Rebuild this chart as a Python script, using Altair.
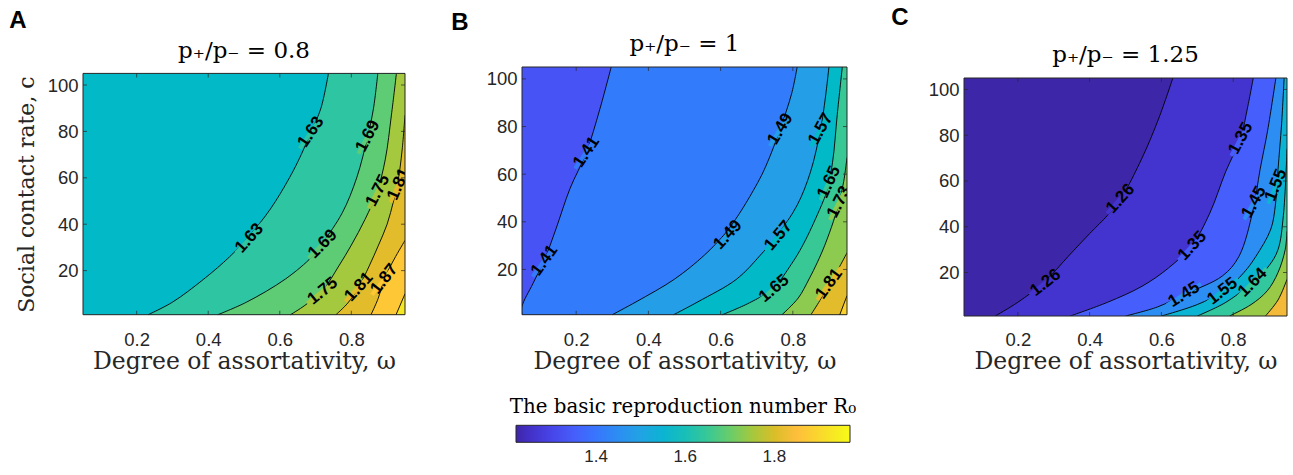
import altair as alt
import pandas as pd

# ---------------- axis / colour limits ----------------
W_DOMAIN = [0.05, 0.95]      # degree of assortativity, omega
C_DOMAIN = [1, 105]          # social contact rate, c
R0_DOMAIN = [1.22, 1.97]     # colour-bar limits
X_TICKS = [0.2, 0.4, 0.6, 0.8]
Y_TICKS = [20, 40, 60, 80, 100]
CBAR_TICKS = [1.4, 1.6, 1.8]

# ---------------- panel A : p+/p- = 0.8 ----------------
A_BASE = 1.57
A_CONTOURS = {   # level: (c values, omega values) along the contour line
    1.63: ([1, 6.4, 16.4, 26, 35, 46.6, 60, 70, 79.6, 90, 105],
           [0.232, 0.30, 0.388, 0.46, 0.515, 0.574, 0.627, 0.66, 0.687, 0.715, 0.736]),
    1.69: ([1, 6.4, 16.4, 26, 32, 45, 60, 78, 90, 105],
           [0.427, 0.507, 0.616, 0.69, 0.72, 0.775, 0.815, 0.846, 0.862, 0.874]),
    1.75: ([1, 5, 11.5, 22, 31, 42, 54, 68, 87, 105],
           [0.63, 0.67, 0.72, 0.765, 0.80, 0.838, 0.872, 0.895, 0.912, 0.926]),
    1.81: ([1, 6, 13, 22, 31, 40, 50, 58, 72, 87],
           [0.757, 0.79, 0.821, 0.85, 0.876, 0.9, 0.918, 0.93, 0.942, 0.95]),
    1.87: ([1, 8, 16.4, 25, 33],
           [0.855, 0.875, 0.892, 0.92, 0.95]),
    1.93: ([1, 10],
           [0.925, 0.95]),
}
A_LABELS = [  # (level, omega, c, text angle)
    (1.63, 0.687, 79.7, 304), (1.63, 0.515, 34, 312),
    (1.69, 0.846, 78, 298), (1.69, 0.72, 31.5, 315),
    (1.75, 0.874, 54.5, 297), (1.75, 0.72, 11.2, 321),
    (1.81, 0.932, 57.3, 294), (1.81, 0.821, 13, 313),
    (1.87, 0.892, 16.4, 308),
]

# ---------------- panel B : p+/p- = 1 ----------------
B_BASE = 1.33
B_CONTOURS = {
    1.41: ([1, 4.5, 14, 24, 37, 54, 69, 87, 105],
           [0.05, 0.05, 0.08, 0.112, 0.144, 0.183, 0.228, 0.265, 0.297]),
    1.49: ([1, 6.4, 16, 26, 35, 43, 53, 60, 68, 79, 94, 105],
           [0.30, 0.366, 0.473, 0.555, 0.612, 0.65, 0.69, 0.715, 0.738, 0.765, 0.797, 0.812]),
    1.57: ([1, 6.4, 16, 26, 35, 47, 61, 79, 92, 105],
           [0.47, 0.537, 0.645, 0.71, 0.76, 0.812, 0.849, 0.877, 0.89, 0.90]),
    1.65: ([1, 6, 12, 22, 30, 42, 52.5, 65, 85, 105],
           [0.605, 0.68, 0.745, 0.795, 0.827, 0.865, 0.893, 0.91, 0.923, 0.937]),
    1.73: ([1, 8, 16, 23, 30, 40, 48, 57, 67],
           [0.77, 0.815, 0.845, 0.868, 0.888, 0.912, 0.928, 0.941, 0.95]),
    1.81: ([1, 7, 14, 20, 27],
           [0.85, 0.875, 0.90, 0.925, 0.95]),
    1.89: ([1, 9],
           [0.93, 0.95]),
}
B_LABELS = [
    (1.41, 0.228, 69.3, 304), (1.41, 0.112, 23.8, 306),
    (1.49, 0.765, 79, 301), (1.49, 0.62, 34.6, 313),
    (1.57, 0.877, 79, 299), (1.57, 0.76, 34.2, 310),
    (1.65, 0.90, 56.7, 295), (1.65, 0.748, 12, 320),
    (1.73, 0.928, 48.3, 297), (1.81, 0.90, 14, 306),
]

# ---------------- panel C : p+/p- = 1.25 ----------------
C_BASE = 1.22
C_CONTOURS = {
    1.26: ([1, 7, 16, 27, 37, 45, 52, 70, 87.5, 105],
           [0.137, 0.20, 0.275, 0.34, 0.40, 0.45, 0.486, 0.546, 0.593, 0.632]),
    1.35: ([1, 7, 14, 22, 32, 46, 64, 79, 92, 105],
           [0.346, 0.45, 0.546, 0.62, 0.686, 0.735, 0.779, 0.821, 0.84, 0.856]),
    1.45: ([1, 5, 10.4, 18.5, 27, 47, 65, 82, 105],
           [0.50, 0.59, 0.663, 0.77, 0.816, 0.855, 0.875, 0.896, 0.919]),
    1.55: ([1, 6, 12, 20, 27, 39, 50, 65, 85, 105],
           [0.60, 0.70, 0.775, 0.83, 0.863, 0.905, 0.918, 0.925, 0.935, 0.942]),
    1.64: ([1, 7, 16, 23, 30, 45, 74],
           [0.70, 0.78, 0.856, 0.90, 0.925, 0.94, 0.95]),
    1.74: ([1, 6, 12, 20, 30, 38],
           [0.79, 0.85, 0.895, 0.925, 0.945, 0.95]),
    1.83: ([1, 8, 17],
           [0.89, 0.925, 0.95]),
}
C_LABELS = [
    (1.26, 0.486, 52.3, 312), (1.26, 0.277, 15.6, 322),
    (1.35, 0.821, 78.7, 298), (1.35, 0.686, 31.7, 313),
    (1.45, 0.858, 50.8, 299), (1.45, 0.663, 10.4, 328),
    (1.55, 0.919, 58.2, 292), (1.55, 0.77, 11.9, 322),
    (1.64, 0.854, 15.6, 315),
]

# ---------------- parula colour map ----------------
PARULA_RGB = [
    (0.2422, 0.1504, 0.6603), (0.2504, 0.1650, 0.7076), (0.2578, 0.1818, 0.7511), (0.2647, 0.1978, 0.7952),
    (0.2706, 0.2147, 0.8364), (0.2751, 0.2342, 0.8710), (0.2783, 0.2559, 0.8991), (0.2803, 0.2782, 0.9221),
    (0.2813, 0.3006, 0.9414), (0.2810, 0.3228, 0.9579), (0.2795, 0.3447, 0.9717), (0.2760, 0.3667, 0.9829),
    (0.2699, 0.3892, 0.9906), (0.2602, 0.4123, 0.9952), (0.2440, 0.4358, 0.9988), (0.2206, 0.4603, 0.9973),
    (0.1963, 0.4847, 0.9892), (0.1834, 0.5074, 0.9798), (0.1786, 0.5289, 0.9682), (0.1764, 0.5499, 0.9520),
    (0.1687, 0.5703, 0.9359), (0.1540, 0.5902, 0.9218), (0.1460, 0.6091, 0.9079), (0.1380, 0.6276, 0.8973),
    (0.1248, 0.6459, 0.8883), (0.1113, 0.6635, 0.8763), (0.0952, 0.6798, 0.8598), (0.0689, 0.6948, 0.8394),
    (0.0297, 0.7082, 0.8163), (0.0036, 0.7203, 0.7917), (0.0067, 0.7312, 0.7660), (0.0433, 0.7411, 0.7394),
    (0.0964, 0.7500, 0.7120), (0.1408, 0.7584, 0.6842), (0.1717, 0.7670, 0.6554), (0.1938, 0.7758, 0.6251),
    (0.2161, 0.7843, 0.5923), (0.2470, 0.7918, 0.5567), (0.2906, 0.7973, 0.5188), (0.3406, 0.8008, 0.4789),
    (0.3909, 0.8029, 0.4354), (0.4456, 0.8024, 0.3909), (0.5044, 0.7993, 0.3480), (0.5616, 0.7942, 0.3045),
    (0.6174, 0.7876, 0.2612), (0.6720, 0.7793, 0.2227), (0.7242, 0.7698, 0.1910), (0.7738, 0.7598, 0.1646),
    (0.8203, 0.7498, 0.1535), (0.8634, 0.7406, 0.1596), (0.9035, 0.7330, 0.1774), (0.9393, 0.7288, 0.2100),
    (0.9728, 0.7298, 0.2394), (0.9956, 0.7434, 0.2371), (0.9970, 0.7659, 0.2199), (0.9952, 0.7893, 0.2028),
    (0.9892, 0.8136, 0.1885), (0.9786, 0.8386, 0.1766), (0.9676, 0.8639, 0.1643), (0.9610, 0.8890, 0.1537),
    (0.9597, 0.9135, 0.1423), (0.9628, 0.9373, 0.1265), (0.9691, 0.9606, 0.1064), (0.9769, 0.9839, 0.0805),
]
PARULA = ["#%02x%02x%02x" % tuple(int(round(v * 255)) for v in rgb) for rgb in PARULA_RGB]

SANS = "Liberation Sans"
SERIF = "DejaVu Serif"
INK = "#262626"
MASK = "M-1,-0.1L1,-0.1L1,0.1L-1,0.1Z"
CURVE = "catmull-rom"

COLOR_SCALE = alt.Scale(domain=R0_DOMAIN, range=PARULA, interpolate="rgb", clamp=True)
LEGEND = alt.Legend(
    orient="none", legendX=427, legendY=329.5, direction="horizontal",
    gradientLength=334, gradientThickness=17,
    gradientStrokeColor=INK, gradientStrokeWidth=1,
    title="The basic reproduction number R₀", titleFont=SERIF, titleFontSize=19.8,
    titleFontWeight="normal", titleColor="black", titleAnchor="middle",
    titlePadding=9, titleLimit=600,
    values=CBAR_TICKS, format=".1f", labelFont=SANS, labelFontSize=17,
    labelColor=INK, labelOffset=7, padding=0,
)


def contour_df(contours):
    rows = []
    for lev, (cs, ws) in contours.items():
        for c, w in zip(cs, ws):
            rows.append({"level": lev, "c": c, "w": w})
    return pd.DataFrame(rows)


def panel(letter, title, base, contours, labels, width, yrange,
          letter_xy, title_y, show_ytitle):
    xs = alt.Scale(domain=W_DOMAIN, nice=False, zero=False)
    ys = alt.Scale(domain=C_DOMAIN, nice=False, zero=False, range=yrange)
    col = lambda f: alt.Color(f, type="quantitative", scale=COLOR_SCALE, legend=LEGEND)

    xaxis = alt.Axis(values=X_TICKS, format=".1f", title="Degree of assortativity, ω",
                     domain=False, ticks=False, tickSize=0, grid=False,
                     labelFont=SANS, labelFontSize=18.5, labelColor=INK, labelPadding=14,
                     titleFont=SERIF, titleFontSize=23.5, titleFontWeight="normal",
                     titleColor=INK, titlePadding=1)
    yaxis = alt.Axis(values=Y_TICKS, format="d",
                     title=("Social contact rate, c" if show_ytitle else None),
                     domain=False, ticks=False, tickSize=0, grid=False,
                     labelFont=SANS, labelFontSize=18.5, labelColor=INK, labelPadding=5,
                     titleFont=SERIF, titleFontSize=22, titleFontWeight="normal",
                     titleColor=INK, titlePadding=9)

    X = lambda f: alt.X(f, type="quantitative", scale=xs, axis=xaxis)
    Y = lambda f: alt.Y(f, type="quantitative", scale=ys, axis=yaxis)
    XD = lambda v: alt.XDatum(v, type="quantitative", scale=xs, axis=xaxis)
    YD = lambda v: alt.YDatum(v, type="quantitative", scale=ys, axis=yaxis)

    df = contour_df(contours)
    base_df = pd.DataFrame({"val": [base]})
    lab = pd.DataFrame(labels, columns=["level", "w", "c", "ang"])
    lab["txt"] = lab["level"].map(lambda v: f"{v:.2f}")

    layers = []
    # lowest band covers the whole plot
    layers.append(alt.Chart(base_df).mark_rect().encode(
        x=XD(W_DOMAIN[0]), x2=alt.X2Datum(W_DOMAIN[1]),
        y=YD(C_DOMAIN[0]), y2=alt.Y2Datum(C_DOMAIN[1]),
        color=col("val")))
    # each higher band: from its contour to the right edge (painted in order)
    for lev in sorted(contours):
        sub = df[df["level"] == lev].sort_values("c")
        layers.append(alt.Chart(sub).mark_area(orient="horizontal", interpolate=CURVE,
                                               clip=True).encode(
            y=Y("c"), x=X("w"), x2=alt.X2Datum(W_DOMAIN[1]),
            color=col("level")))
    # contour lines
    layers.append(alt.Chart(df).mark_line(color="black", strokeWidth=0.9,
                                          interpolate=CURVE, clip=True).encode(
        x=X("w"), y=Y("c"), detail="level:N", order="c:Q"))
    # gaps in the lines behind the labels
    layers.append(alt.Chart(lab).mark_point(shape=MASK, filled=True, opacity=1,
                                            size=1600, strokeWidth=0, clip=True).encode(
        x=X("w"), y=Y("c"), color=col("level"),
        angle=alt.Angle("ang:Q", scale=None)))
    # labels
    layers.append(alt.Chart(lab).mark_text(font=SANS, fontSize=17, fontWeight="bold",
                                           color="black", align="center",
                                           baseline="middle", clip=True).encode(
        x=X("w"), y=Y("c"), text="txt:N",
        angle=alt.Angle("ang:Q", scale=None)))
    # frame
    layers.append(alt.Chart(base_df).mark_rect(filled=False, stroke=INK, strokeWidth=1).encode(
        x=XD(W_DOMAIN[0]), x2=alt.X2Datum(W_DOMAIN[1]),
        y=YD(C_DOMAIN[0]), y2=alt.Y2Datum(C_DOMAIN[1])))
    # inward ticks
    xt = pd.DataFrame({"t": X_TICKS})
    yt = pd.DataFrame({"t": Y_TICKS})
    for cval, off in ((C_DOMAIN[0], -2), (C_DOMAIN[1], 2)):
        layers.append(alt.Chart(xt).mark_tick(orient="vertical", size=4, thickness=1,
                                              color=INK, yOffset=off).encode(
            x=X("t"), y=YD(cval)))
    for wval, off in ((W_DOMAIN[0], 2), (W_DOMAIN[1], -2)):
        layers.append(alt.Chart(yt).mark_tick(orient="horizontal", size=4, thickness=1,
                                              color=INK, xOffset=off).encode(
            y=Y("t"), x=XD(wval)))
    # panel letter and title
    layers.append(alt.Chart(base_df).mark_text(text=letter, font=SANS, fontWeight="bold",
                                               fontSize=24, color="black", align="center",
                                               baseline="alphabetic").encode(
        x=alt.value(letter_xy[0]), y=alt.value(letter_xy[1])))
    layers.append(alt.Chart(base_df).mark_text(text=title, font=SERIF, fontSize=23,
                                               color="black", align="center",
                                               baseline="alphabetic").encode(
        x=alt.value(width / 2), y=alt.value(title_y)))

    return alt.layer(*layers).properties(width=width, height=249)


pA = panel("A", "p₊/p₋ = 0.8", A_BASE, A_CONTOURS, A_LABELS, 322, [247.7, 6.4],
           (-65, -39), -9.5, True)
pB = panel("B", "p₊/p₋ = 1", B_BASE, B_CONTOURS, B_LABELS, 325, [247.7, 0],
           (-62, -36.6), -16, False)
pC = panel("C", "p₊/p₋ = 1.25", C_BASE, C_CONTOURS, C_LABELS, 323, [249, 11],
           (-64, -41.6), -5, False)

chart = (
    alt.hconcat(pA, pB, pC, spacing=117, bounds="flush")
    .resolve_scale(color="shared")
    .resolve_legend(color="shared")
    .properties(padding={"left": 9, "top": 6, "right": 5, "bottom": 5})
    .configure_view(strokeWidth=0)
)

chart.save("out.html", embed_options={"renderer": "svg", "actions": False})
